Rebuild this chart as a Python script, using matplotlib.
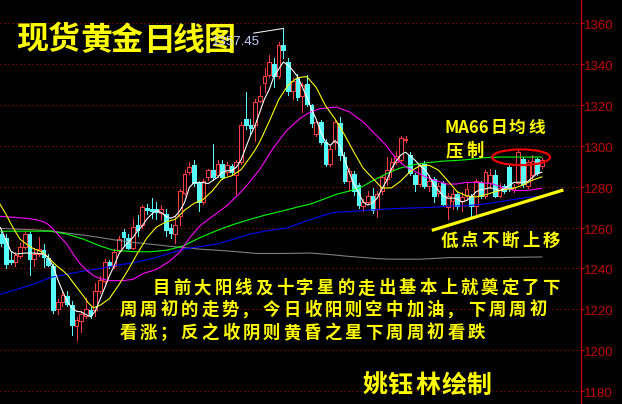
import matplotlib
matplotlib.use('Agg')
import matplotlib.pyplot as plt
from matplotlib.patches import Rectangle, Ellipse

plt.rcParams['font.family'] = ['Noto Sans CJK SC', 'DejaVu Sans']

# ---------------- data ----------------
candle_idx = list(range(-1, 115))
opens = [1257, 1255, 1244, 1243, 1246, 1250.5, 1257, 1244.5, 1247, 1249, 1245, 1241, 1220, 1223.5, 1226.5, 1222,
         1212, 1214, 1216.5, 1219.5, 1219.5, 1229, 1234, 1243, 1241, 1248.5, 1258, 1255, 1250, 1261, 1261, 1269.5,
         1269, 1269, 1267, 1266.5, 1260, 1257, 1265.5, 1277, 1287, 1290.5, 1282, 1272.5, 1284.5, 1288, 1285.5, 1291,
         1287, 1290, 1285.5, 1292, 1313, 1310, 1310, 1322, 1331, 1334.5, 1340, 1334, 1349.5, 1341, 1327, 1333,
         1324.5, 1330.5, 1320, 1306, 1311.5, 1302, 1291, 1302, 1311, 1294.5, 1283, 1286, 1281, 1270.5, 1272.5, 1275.5,
         1269, 1278, 1284, 1288.5, 1292, 1293, 1303, 1295.5, 1285.5, 1281.5, 1291, 1280.5, 1284, 1277, 1282, 1270,
         1273, 1276.5, 1273, 1275.5, 1275.5, 1270.5, 1282, 1275.5, 1282, 1285.5, 1275.5, 1280.5, 1289.5, 1278.5, 1282, 1293.5,
         1280.5, 1285.5, 1293.5, 1290]
highs = [1258, 1257, 1248, 1248, 1252.5, 1258.5, 1258, 1250, 1255.5, 1252, 1247, 1242, 1225, 1229, 1229, 1224,
         1216, 1219, 1225.5, 1221, 1233, 1236.5, 1244.5, 1244, 1249.5, 1256, 1259.5, 1257, 1264, 1266, 1271, 1271.5,
         1274.5, 1272.5, 1271, 1269, 1261.5, 1265, 1279, 1288, 1292, 1293, 1283, 1284, 1288.5, 1301, 1293, 1293,
         1292, 1291, 1293, 1311.5, 1326.5, 1313, 1323, 1329.5, 1338, 1344.5, 1343, 1351, 1357.45, 1343, 1333, 1335,
         1331, 1334.5, 1320.5, 1312.5, 1312.5, 1303.5, 1300, 1312.5, 1314, 1297, 1289, 1287.5, 1282, 1274, 1278, 1279.5,
         1278, 1285.5, 1294.5, 1294, 1297.5, 1305, 1305, 1297, 1286.5, 1291.5, 1292.5, 1285.5, 1284.5, 1282, 1283, 1277,
         1279, 1278, 1277.5, 1282, 1276.5, 1284, 1283, 1288, 1288.5, 1288, 1282, 1281.5, 1290.5, 1281.5, 1298, 1294.5,
         1293, 1295.5, 1294, 1294]
lows = [1251, 1240, 1242, 1241, 1245, 1249.5, 1237, 1241, 1246, 1240.5, 1241, 1218, 1217.5, 1221.5, 1221.5, 1207.5,
        1205, 1209, 1215.5, 1215.5, 1216.5, 1228, 1233, 1240, 1240, 1247.5, 1251, 1249.5, 1249.5, 1256, 1260, 1266.5,
        1264.5, 1264, 1264, 1256, 1255, 1252.5, 1261, 1276, 1286, 1280.5, 1268, 1271.5, 1283.5, 1283.5, 1284.5, 1284,
        1285.5, 1285.5, 1276.5, 1291, 1308, 1306, 1302.5, 1321.5, 1326.5, 1333.5, 1329, 1333, 1343, 1325, 1323, 1322.5,
        1316.5, 1319.5, 1309, 1305, 1301, 1290, 1290, 1298.5, 1293, 1282, 1278.5, 1276, 1269.5, 1268, 1271.5, 1267,
        1265, 1276.5, 1281, 1284.5, 1291, 1292, 1302, 1285.5, 1278, 1280.5, 1279.5, 1278, 1272.5, 1275.5, 1270.5, 1264,
        1269, 1269, 1268, 1274, 1265.5, 1266, 1274.5, 1274.5, 1279.5, 1274.8, 1274.8, 1277, 1278, 1277.5, 1281.5, 1280,
        1279.5, 1283.5, 1285.5, 1289]
closes = [1252.5, 1242, 1243, 1246.5, 1250.5, 1257, 1244.5, 1247, 1249.5, 1245.5, 1241.5, 1219.5, 1223.5, 1227, 1222.5, 1212.5,
          1214.5, 1217.5, 1220, 1217, 1229, 1234.5, 1243, 1241, 1248, 1254.5, 1255.5, 1250, 1260.5, 1259, 1270, 1268.5,
          1268, 1267.5, 1269, 1259, 1257.5, 1261, 1278, 1286, 1289.5, 1282, 1272.5, 1283, 1288, 1284.5, 1291, 1284.5,
          1290.5, 1287, 1292, 1310, 1310, 1308.5, 1321.5, 1324.5, 1334, 1341, 1334, 1349.5, 1347, 1327, 1331.5, 1324,
          1330, 1320.5, 1311, 1311.5, 1302, 1291, 1298.5, 1311.5, 1295.5, 1283, 1287.5, 1278, 1271, 1272.5, 1275.5, 1268.5,
          1276.5, 1284.5, 1288, 1292, 1295, 1304, 1303.5, 1286.5, 1281.5, 1290.5, 1280.5, 1283, 1275.5, 1280.5, 1271.5, 1275.5,
          1276.5, 1270.5, 1275, 1279, 1270.5, 1283, 1275.5, 1287, 1285.5, 1275.5, 1279.5, 1278, 1279, 1280, 1297, 1281.5,
          1292, 1292.5, 1286.5, 1293]

# moving-average lines: positions and values
ma5_x = [-1.2, 0, 1, 2, 4, 6, 8, 9, 10, 11, 12, 13, 14, 15, 16, 17, 18, 19, 20, 21, 22, 23, 24, 25, 26, 27, 28, 29, 30,
         31, 32, 33, 34, 35, 36, 37, 38, 39, 40, 41, 42, 43, 44, 45, 46, 47, 48, 49, 50, 51, 52, 53, 54, 55, 56, 57,
         58, 59, 60, 61, 62, 63, 64, 65, 66, 67, 68, 69, 70, 71, 72, 73, 74, 75, 76, 77, 78, 79, 80, 81, 82, 83, 84,
         85, 86, 87, 88, 89, 90, 91, 92, 93, 94, 95, 96, 97, 98, 99, 100, 101, 102, 103, 104, 105, 106, 107, 108, 109,
         110, 111, 112, 113, 114]
ma5_y = [1260, 1254, 1248.5, 1247, 1247.5, 1247.5, 1247, 1245.3, 1241.2, 1234.6, 1229, 1224, 1220.7, 1219, 1218.7,
         1217.4, 1216.3, 1219.1, 1224.8, 1230.5, 1236.3, 1241.2, 1247, 1250.2, 1252.7, 1255.1, 1258.4, 1260.9, 1264.2,
         1266.6, 1268.2, 1267.4, 1265.5, 1264.5, 1265.5, 1268.2, 1272.3, 1279.6, 1282, 1282, 1282, 1281.5, 1283, 1284.6,
         1287, 1287.8, 1287.8, 1289.5, 1293, 1299, 1305, 1310, 1316.5, 1323, 1327.5, 1334, 1337.5, 1341, 1339.5, 1337,
         1334, 1329, 1324, 1318, 1313, 1306.7, 1301.8, 1300.2, 1302.6, 1300.2, 1293.6, 1287.1, 1281.3, 1277.2, 1272.5,
         1271, 1272, 1274.5, 1279, 1283, 1288.7, 1292.5, 1295.5, 1296.9, 1295, 1293, 1290.5, 1288.5, 1285.4, 1281,
         1278.1, 1275.6, 1274.3, 1274.5, 1274, 1272.5, 1273.2, 1275, 1277.5, 1278.5, 1278.9, 1279.5, 1278.9, 1278.1,
         1279, 1280.5, 1282, 1282.2, 1282.2, 1282.5, 1284.5, 1286.5, 1287.1]

ma10_x = [-1.3, 0, 1, 2, 3, 4.4, 5.8, 7.2, 8.3, 9.4, 10.8, 12.2, 13.3, 14.3, 15.4, 16.5, 17.5, 18.6, 20, 22, 24, 26,
          28, 30, 32, 34, 36, 38, 40, 42, 44, 46, 48, 50, 52, 53, 54, 56, 58, 60, 62, 64, 66, 68, 70, 72, 74, 76, 78,
          80, 82, 84, 86, 88, 90, 92, 94, 96, 98, 100, 102, 104, 106, 108, 110, 112, 114]
ma10_y = [1271.5, 1266.5, 1262, 1258, 1254.3, 1251.8, 1249.7, 1248.5, 1246.9, 1244.4, 1241.2, 1238.7, 1236.2, 1233,
          1229.7, 1226.4, 1223.1, 1220.7, 1221.9, 1225.2, 1231.9, 1239.3, 1247.5, 1255, 1260.2, 1262.7, 1264, 1268.5,
          1271.8, 1273.8, 1278.2, 1283.9, 1285.3, 1288.3, 1294.6, 1298, 1302, 1311.9, 1322.5, 1329.7, 1333.4, 1333.9,
          1328.6, 1319.6, 1313.2, 1305.5, 1297, 1289, 1284.2, 1279.3, 1279.4, 1282.8, 1287.4, 1290.2, 1290.5, 1288.1,
          1282.9, 1277.5, 1275.5, 1275, 1276, 1277.5, 1278.5, 1279.2, 1280.8, 1283.2, 1284.8]

ma20_x = [-1.3, 1.6, 4.4, 6.5, 8, 9, 10.1, 11.5, 12.9, 14.3, 15.7, 17.2, 18.6, 20, 22, 24.8, 27, 29.2, 32, 34.8, 37,
          39.1, 41.3, 44.1, 47, 49.8, 51.2, 54, 56.9, 59.7, 62.6, 64.7, 66.8, 70.3, 73.1, 76, 78.8, 80.9, 83, 85.2,
          87.3, 89.4, 91.5, 93.7, 95.8, 97.9, 100.8, 103.6, 106.5, 108.6, 110.8, 112.2, 114]
ma20_y = [1265.5, 1265, 1264.5, 1263.8, 1262.8, 1261.5, 1259, 1255.5, 1252, 1247, 1242.5, 1239, 1236.5, 1235, 1234,
          1234, 1234.6, 1237.5, 1239.5, 1243.5, 1248, 1255, 1260.9, 1265.8, 1270.7, 1277, 1280.5, 1288.5, 1299,
          1307.5, 1313.5, 1316.5, 1318.2, 1319, 1316.6, 1311.7, 1305.1, 1300.2, 1293.6, 1289.5, 1287.1, 1284.6, 1283,
          1281.3, 1281.3, 1282.1, 1282.1, 1281.3, 1278.9, 1278.1, 1278.1, 1278.6, 1279.2]

ma66_x = [-1.3, 9.4, 12.9, 16.5, 20, 22.8, 27.1, 30.6, 34.2, 37.7, 41.3, 44.8, 48.4, 51.9, 55.5, 59.5, 62.5, 64.8,
          67.6, 70.5, 73.3, 75.4, 78.1, 80.9, 83.7, 86.6, 89.4, 92.9, 95.5, 98, 101.6, 105.1, 108.7, 114]
ma66_y = [1258.2, 1258.2, 1256.8, 1254.3, 1251, 1248.9, 1248.2, 1248.1, 1248.9, 1251, 1255.1, 1258.5, 1261.5, 1264,
          1266.3, 1268.5, 1270.3, 1271.5, 1273.9, 1276.4, 1278, 1279.5, 1283, 1286.3, 1289, 1290.7, 1291.7, 1292.5,
          1292.8, 1293.2, 1294.2, 1294.5, 1294.5, 1294.5]

ma120_x = [-1.3, 2.3, 5.8, 9.4, 12.9, 16.5, 20, 23.5, 27.1, 30.6, 34.2, 37.7, 41.3, 44.8, 48.4, 51.9, 55.5, 59.8, 63,
           66.9, 69.7, 73.3, 76.8, 83.9, 91, 94.5, 98.1, 101.6, 105.5, 108.7, 111, 114]
ma120_y = [1227.3, 1229.7, 1232.2, 1235.5, 1237.1, 1238.7, 1239.9, 1241.5, 1242.8, 1244.5, 1246.9, 1249.4, 1250.7,
           1251.9, 1254.3, 1256.8, 1258.4, 1259.8, 1262.5, 1265.5, 1267.4, 1267.8, 1268.5, 1269.4, 1269.9, 1270.5,
           1270.7, 1271.5, 1272.8, 1274, 1274.8, 1275.3]

ma250_x = [-1.3, 5.8, 9.4, 12.9, 16.5, 20, 23.5, 27.1, 30.6, 34.2, 37.7, 41.3, 44.8, 48.4, 53.3, 59, 64.7, 68.3, 73.3,
           78.9, 81.8, 88.2, 94.6, 105.2, 114]
ma250_y = [1259.6, 1258.9, 1258.4, 1257.3, 1256.3, 1255.1, 1253.8, 1252.7, 1251.9, 1251, 1250.2, 1249.4, 1248.9,
           1248.3, 1247.3, 1247.3, 1247.5, 1246.9, 1245.8, 1244.8, 1244.5, 1244.5, 1245.3, 1245.3, 1245.6]

price_ticks = [1180, 1200, 1220, 1240, 1260, 1280, 1300, 1320, 1340, 1360]
peak_label = "1357.45"

# ---------------- figure ----------------
W, H = 622, 404
fig = plt.figure(figsize=(W / 100, H / 100), dpi=100, facecolor='black')
ax = fig.add_axes([0, 0, 581 / W, 1])
ax.set_facecolor('black')
ax.set_xlim(-1.277, 122.34)
ax.set_ylim(1173.6, 1371.4)

PX = 0.72  # one pixel in points
RED = '#FF3C3C'
CYAN = '#54FCFC'

# grid
for v in price_ticks:
    ax.axhline(v, color='#C00000', lw=PX, ls=(0, (1, 3)), zorder=1)

# candles
bw = 0.8
for i, o, h, l, c in zip(candle_idx, opens, highs, lows, closes):
    top, bot = max(o, c), min(o, c)
    if c > o:
        ax.vlines(i, top, h, color=RED, lw=PX, zorder=2, antialiased=False)
        ax.vlines(i, l, bot, color=RED, lw=PX, zorder=2, antialiased=False)
        ax.add_patch(Rectangle((i - bw / 2, bot), bw, top - bot, facecolor='black', edgecolor=RED,
                               lw=PX, zorder=3, antialiased=False))
    else:
        ax.vlines(i, l, h, color=CYAN, lw=PX, zorder=2, antialiased=False)
        ax.add_patch(Rectangle((i - bw / 2, bot), bw, max(top - bot, 0.3), facecolor=CYAN, edgecolor=CYAN,
                               lw=PX * 0.5, zorder=3, antialiased=False))

# moving averages
for xs, ys, col in [(ma250_x, ma250_y, '#808080'), (ma120_x, ma120_y, '#0000FF'), (ma66_x, ma66_y, '#00FF00'),
                    (ma20_x, ma20_y, '#FF00FF'), (ma10_x, ma10_y, '#FFFF00'), (ma5_x, ma5_y, '#FFFFFF')]:
    ax.plot(xs, ys, color=col, lw=PX * 1.1, zorder=4, solid_joinstyle='round')

# peak annotation line
ax.plot([52.7, 59], [1355.2, 1357.45], color='white', lw=PX, zorder=5)

# red ellipse
ax.add_patch(Ellipse((109.6, 1294.4), 12.3, 7.7, facecolor='none', edgecolor='#F00000', lw=1.6, zorder=6))

# yellow support line
ax.plot([90.6, 118.6], [1258.6, 1278.4], color='#FFFF00', lw=2.3, zorder=6, solid_capstyle='butt')

# axis cosmetics
for s in ['top', 'left', 'bottom']:
    ax.spines[s].set_visible(False)
ax.spines['right'].set_color('#D00000')
ax.spines['right'].set_linewidth(PX * 1.2)
ax.set_xticks([])
ax.yaxis.tick_right()
ax.set_yticks(price_ticks)
ax.tick_params(axis='y', direction='out', length=2.5, width=PX, color='#D00000', labelright=False)

# price labels
def ypx(v):
    return 23.3 + (1360 - v) * 2.0428

for v in price_ticks:
    fig.text(584 / W, 1 - (ypx(v) + 3) / H, str(v), ha='left', va='center', color='#C00000',
             fontsize=9.5, family=['Liberation Sans', 'DejaVu Sans'])

# text helpers
def chars_at(chars, centers, yc, size, color='#FFFF00', weight='normal'):
    spx = size * 100 / 72
    base = yc + 0.38 * spx
    for ch, xc in zip(chars, centers):
        dx = 0
        if ch == '，':
            dx = -2
        elif ch == '；':
            dx = -1
        fig.text((xc + dx) / W, 1 - base / H, ch, ha='center', va='baseline', color=color,
                 fontsize=size, fontweight=weight, zorder=10)

def spaced(text, x0, yc, pitch, size, **kw):
    chars_at(list(text), [x0 + k * pitch for k in range(len(text))], yc, size, **kw)

# title
chars_at(list("现货黄金日线图"), [32.5, 64, 96.5, 126.5, 159, 189, 220], 37.5, 23, weight='bold')

# peak value label
fig.text(212 / W, 1 - 42 / H, peak_label, ha='left', va='center', color='#C8D0FF', fontsize=9.5,
         family=['Liberation Sans', 'DejaVu Sans'], zorder=11)

# MA66 annotation
fig.text(445 / W, 1 - (126.7 + 0.37 * 12 * 100 / 72) / H, "MA66", ha='left', va='baseline', color='#FFFF00',
         fontsize=12, fontweight='bold')
chars_at(list("日均线"), [499, 517, 537], 126.7, 12, weight='bold')
chars_at(list("压制"), [454.5, 475], 149.5, 12.5, weight='bold')

# support annotation
spaced("低点不断上移", 449, 239.2, 20.5, 12.5, weight='bold')

# commentary
spaced("目前大阳线及十字星的走出基本上就奠定了下", 161.5, 286.7, 20.5, 12.5, weight='bold')
spaced("周周初的走势，今日收阳则空中加油，下周周初", 128, 308.5, 20.5, 12.5, weight='bold')
spaced("看涨；反之收阴则黄昏之星下周周初看跌", 128, 331.5, 20.5, 12.5, weight='bold')

# signature
chars_at(list("姚钰林绘制"), [375, 400.5, 428.5, 454.5, 479], 383.3, 18, weight='bold')

fig.savefig('out.png', dpi=100, facecolor='black')
